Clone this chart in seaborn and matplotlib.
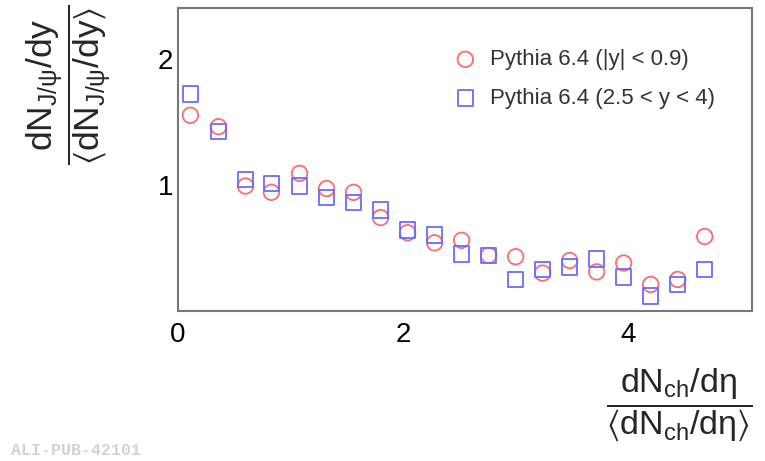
import numpy as np
import pandas as pd
import matplotlib
matplotlib.use("Agg")
import matplotlib.pyplot as plt
from matplotlib.ticker import MultipleLocator, FixedLocator
import seaborn as sns

sns.set_style("white")
plt.rcParams['font.family'] = ['Liberation Sans', 'DejaVu Sans']
plt.rcParams['mathtext.fontset'] = 'custom'
plt.rcParams['mathtext.rm'] = 'Liberation Sans'
plt.rcParams['mathtext.it'] = 'Liberation Sans'
plt.rcParams['mathtext.sf'] = 'Liberation Sans'
plt.rcParams['mathtext.default'] = 'regular'

# multiplicity bins (dNch/deta / <dNch/deta>)
mult = [0.11, 0.36, 0.60, 0.83, 1.08, 1.32, 1.56, 1.80, 2.04, 2.28,
        2.52, 2.76, 3.00, 3.24, 3.48, 3.72, 3.96, 4.20, 4.44, 4.68]
# relative J/psi yield, mid rapidity
mid_y = [1.55, 1.46, 0.99, 0.94, 1.09, 0.97, 0.94, 0.74, 0.62, 0.54,
         0.56, 0.44, 0.43, 0.30, 0.40, 0.31, 0.38, 0.21, 0.25, 0.59]
# relative J/psi yield, forward rapidity
fwd_y = [1.72, 1.42, 1.04, 1.01, 0.99, 0.90, 0.86, 0.80, 0.64, 0.60,
         0.45, 0.44, 0.25, 0.33, 0.35, 0.41, 0.27, 0.12, 0.21, 0.33]
labels = ["Pythia 6.4 (|y| < 0.9)", "Pythia 6.4 (2.5 < y < 4)"]

df = pd.DataFrame({"x": mult * 2, "y": mid_y + fwd_y,
                   "sample": [labels[0]] * len(mult) + [labels[1]] * len(mult)})

fig = plt.figure(figsize=(7.65, 4.61), dpi=100)
ax = fig.add_axes([0.2327, 0.3254, 0.7503, 0.6572])

styles = {labels[0]: ("o", "#ff6b6b"), labels[1]: ("s", "#6b6bff")}
for lab, (mk, col) in styles.items():
    sns.scatterplot(ax=ax, data=df[df["sample"] == lab], x="x", y="y",
                    marker=mk, s=125, facecolors="none", edgecolor=col,
                    linewidth=1.3, label=lab)

ax.set_xlim(0, 5.1)
ax.set_ylim(0.0, 2.4)
ax.xaxis.set_major_locator(FixedLocator([0, 2, 4]))
ax.xaxis.set_minor_locator(MultipleLocator(0.5))
ax.yaxis.set_major_locator(FixedLocator([1, 2]))
ax.yaxis.set_minor_locator(MultipleLocator(0.2))
ax.tick_params(which="both", direction="in", colors="#555555", labelcolor="black",
               labelsize=20, top=False, right=False)
ax.tick_params(which="major", length=9, width=1.2)
ax.tick_params(which="minor", length=5, width=1.0)
ax.tick_params(axis="x", pad=8)
for sp in ax.spines.values():
    sp.set_color("#777777")
    sp.set_linewidth(1.5)

ax.set_xlabel(r"$\dfrac{dN_{ch}/d\eta}{\langle dN_{ch}/d\eta\rangle}$", fontsize=24.5)
ax.xaxis.set_label_coords(1.0, -0.185)
ax.xaxis.label.set_horizontalalignment("right")
ax.xaxis.label.set_verticalalignment("top")
ax.set_ylabel(r"$\dfrac{dN_{J/\psi}/dy}{\langle dN_{J/\psi}/dy\rangle}$", fontsize=25.5)
ax.yaxis.set_label_coords(-0.19, 1.012)
ax.yaxis.label.set_horizontalalignment("right")
ax.yaxis.label.set_verticalalignment("center")

leg = ax.legend(loc="upper left", bbox_to_anchor=(0.427, 0.93), frameon=False,
                fontsize=16, handletextpad=0.1, labelspacing=0.8, markerscale=1.0)
for t in leg.get_texts():
    t.set_color("#333333")

fig.text(0.015, 0.013, "ALI-PUB-42101", fontsize=12, color="#d2d2d2",
         family="Liberation Mono", fontweight="bold")

fig.savefig("out.png", dpi=100)
